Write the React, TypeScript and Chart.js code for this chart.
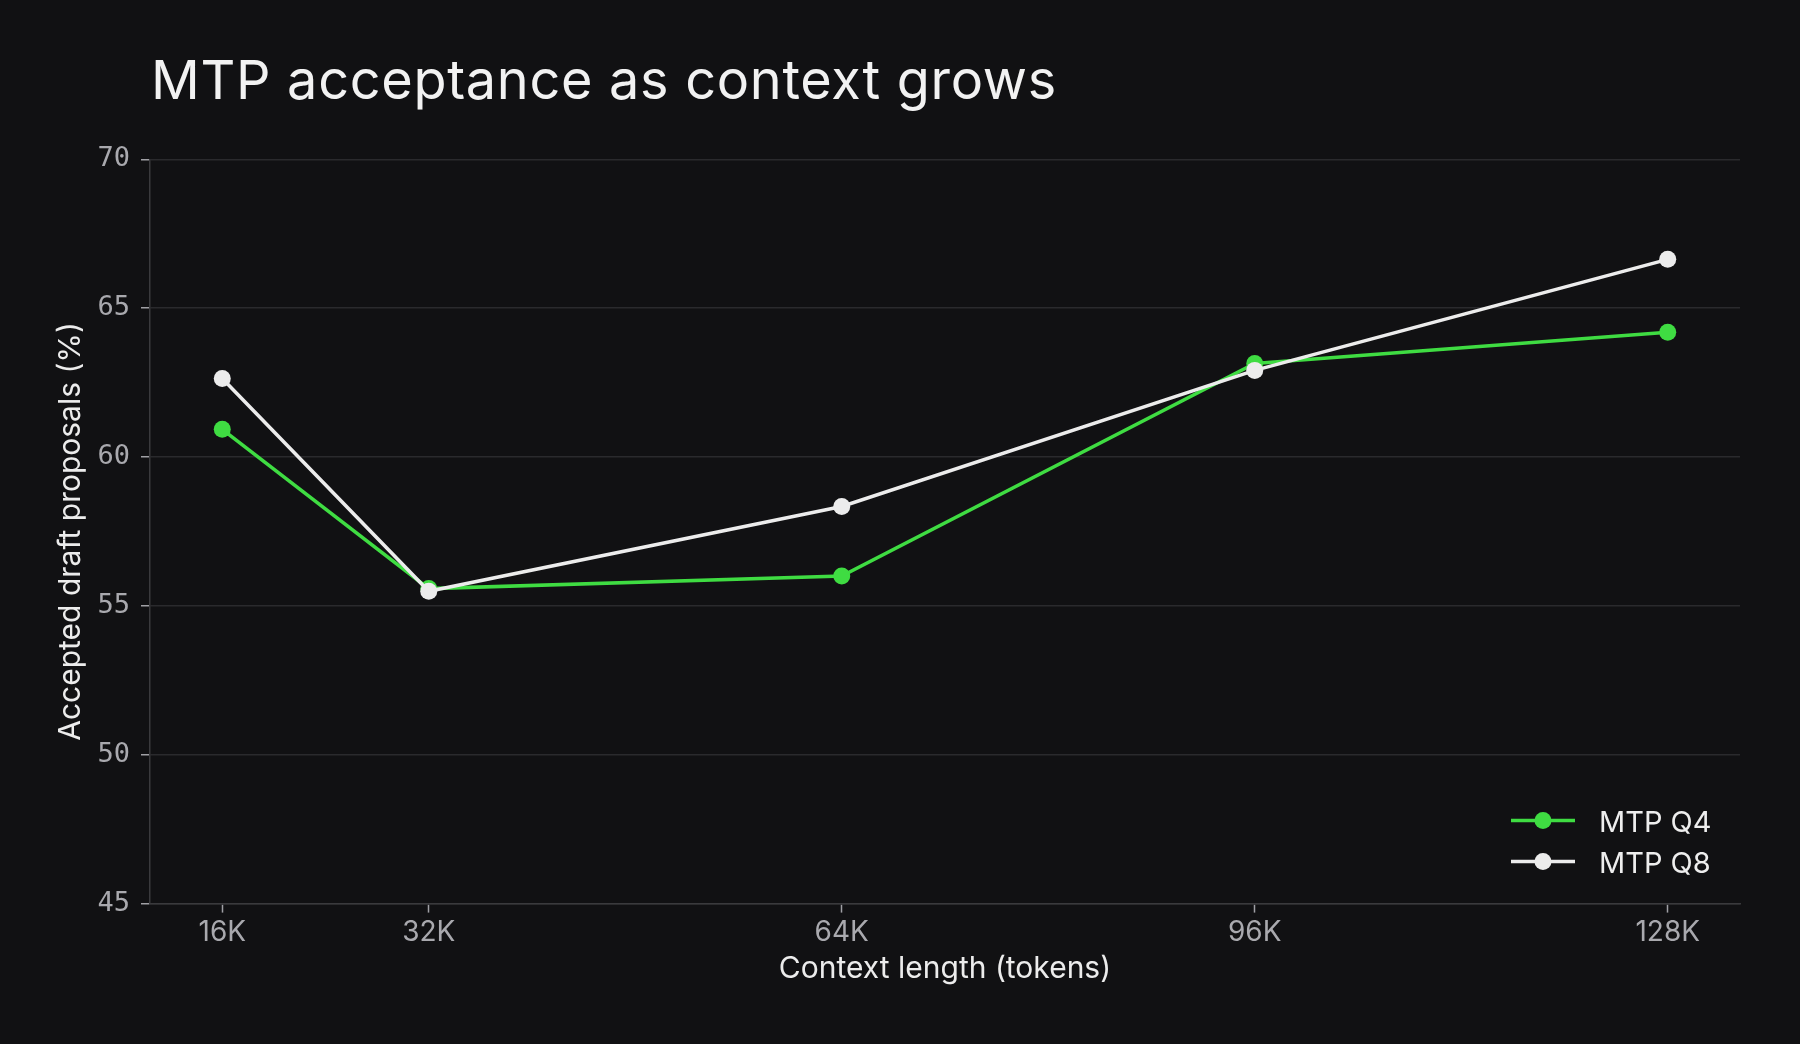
import React, { useEffect, useRef } from "react";
import { Chart, registerables } from "chart.js";

Chart.register(...registerables);

// ---- data ----
const contextK = [16, 32, 64, 96, 128];
const q4Values = [60.93, 55.58, 56.0, 63.14, 64.19];
const q8Values = [62.64, 55.49, 58.34, 62.91, 66.64];
const yTicks = [45, 50, 55, 60, 65, 70];
const seriesNames = ["MTP Q4", "MTP Q8"];
const titleText = "MTP acceptance as context grows";
const xTitle = "Context length (tokens)";
const yTitle = "Accepted draft proposals (%)";

const BG = "#111113";
const GREEN = "#3fdc42";
const WHITE = "#ececec";
const seriesColors = [GREEN, WHITE];

const overlayPlugin = {
  id: "overlay",
  afterDraw(chart: any) {
    const ctx = chart.ctx as CanvasRenderingContext2D;
    const area = chart.chartArea;
    ctx.save();
    // title
    ctx.font = "400 54px Inter";
    (ctx as any).letterSpacing = "0.7px";
    ctx.fillStyle = "#f2f2f2";
    ctx.textBaseline = "alphabetic";
    ctx.textAlign = "left";
    ctx.fillText(titleText, area.left + 1, 99);
    (ctx as any).letterSpacing = "0px";
    // legend
    seriesNames.forEach((name, i) => {
      const y = area.bottom - 83 + i * 41;
      const x0 = area.right - 229;
      const x1 = area.right - 165;
      ctx.strokeStyle = seriesColors[i];
      ctx.lineWidth = 3.5;
      ctx.beginPath();
      ctx.moveTo(x0, y);
      ctx.lineTo(x1, y);
      ctx.stroke();
      ctx.fillStyle = seriesColors[i];
      ctx.beginPath();
      ctx.arc((x0 + x1) / 2, y, 8.5, 0, Math.PI * 2);
      ctx.fill();
      ctx.font = "400 29px Inter";
      ctx.fillStyle = "#eeeeee";
      ctx.textBaseline = "alphabetic";
      ctx.fillText(name, area.right - 141, y + 11);
    });
    ctx.restore();
  },
};

export default function App() {
  const ref = useRef<HTMLCanvasElement | null>(null);

  useEffect(() => {
    if (!ref.current) return;
    const chart = new Chart(ref.current, {
      type: "line",
      data: {
        datasets: [
          {
            label: seriesNames[0],
            data: contextK.map((x, i) => ({ x, y: q4Values[i] })),
            borderColor: GREEN,
            backgroundColor: GREEN,
            pointBackgroundColor: GREEN,
            borderWidth: 3.5,
            pointRadius: 8.5,
            pointBorderWidth: 0,
            order: 2,
          },
          {
            label: seriesNames[1],
            data: contextK.map((x, i) => ({ x, y: q8Values[i] })),
            borderColor: WHITE,
            backgroundColor: WHITE,
            pointBackgroundColor: WHITE,
            borderWidth: 3.5,
            pointRadius: 8.5,
            pointBorderWidth: 0,
            order: 1,
          },
        ],
      },
      options: {
        animation: false,
        responsive: false,
        devicePixelRatio: 1,
        layout: { padding: { top: 159.3, right: 60, left: 0, bottom: 0 } },
        plugins: {
          legend: { display: false },
          title: { display: false },
          tooltip: { enabled: false },
        },
        scales: {
          x: {
            type: "linear",
            min: 10.4,
            max: 133.6,
            afterBuildTicks: (s: any) => {
              s.ticks = contextK.map((v) => ({ value: v }));
            },
            afterFit: (s: any) => {
              s.height = 140.4;
            },
            grid: {
              drawOnChartArea: false,
              drawTicks: true,
              tickLength: 9,
              tickColor: "#a0a0a5",
              tickWidth: 1.5,
            },
            border: { display: true, color: "#3a3a3d", width: 1.5 },
            ticks: {
              color: "#a9a9ae",
              font: { family: "Inter", size: 28 },
              padding: 3,
              maxRotation: 0,
              autoSkip: false,
              callback: (v: any) => `${v}K`,
            },
            title: {
              display: true,
              text: xTitle,
              color: "#ececec",
              font: { family: "Inter", size: 30 },
              padding: { top: 0, bottom: 57 },
            },
          },
          y: {
            min: 45,
            max: 70,
            afterBuildTicks: (s: any) => {
              s.ticks = yTicks.map((v) => ({ value: v }));
            },
            afterFit: (s: any) => {
              s.width = 150;
            },
            grid: {
              color: "#2a2a2d",
              lineWidth: 1.5,
              drawTicks: true,
              tickLength: 9,
              tickColor: "#a0a0a5",
              tickWidth: 1.5,
            },
            border: { display: true, color: "#3a3a3d", width: 1.5 },
            ticks: {
              color: "#a9a9ae",
              font: { family: "DejaVu Sans Mono", size: 27 },
              padding: 11,
            },
            title: {
              display: true,
              text: yTitle,
              color: "#ececec",
              font: { family: "Inter", size: 30 },
              padding: { top: 53, bottom: 0 },
            },
          },
        },
      },
      plugins: [overlayPlugin],
    });
    return () => chart.destroy();
  }, []);

  return (
    <div
      style={{
        position: "fixed",
        left: 0,
        top: 0,
        width: 1800,
        height: 1044,
        background: BG,
      }}
    >
      <canvas ref={ref} width={1800} height={1044} style={{ display: "block" }} />
    </div>
  );
}
